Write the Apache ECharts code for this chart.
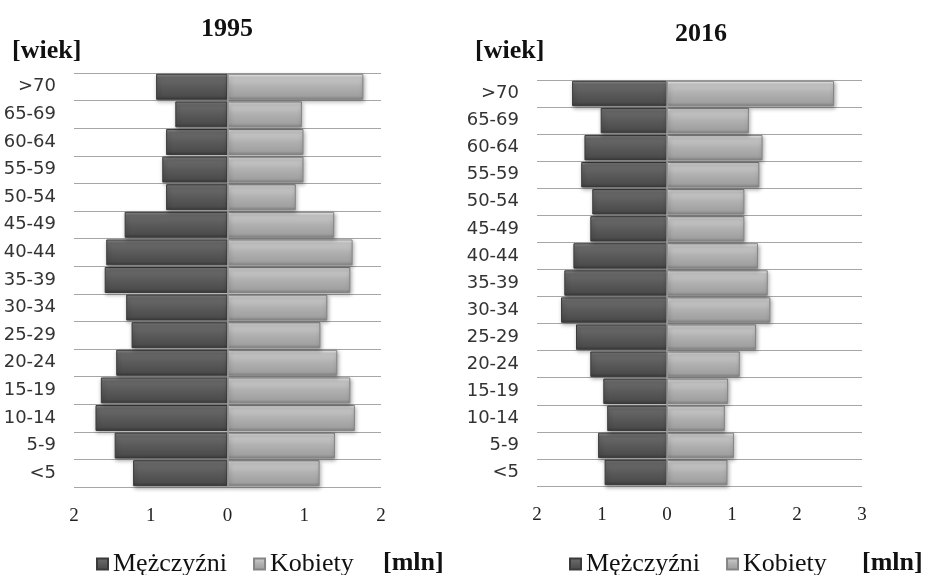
<!DOCTYPE html>
<html>
<head>
<meta charset="utf-8">
<script src="https://cdn.jsdelivr.net/npm/echarts@6/dist/echarts.min.js"></script>
<style>
html,body{margin:0;padding:0;background:#fff;}
#main{width:925px;height:575px;}
</style>
</head>
<body>
<div id="main"></div>
<script>
// Age groups, bottom to top
const categories = ['<5','5-9','10-14','15-19','20-24','25-29','30-34','35-39','40-44','45-49','50-54','55-59','60-64','65-69','>70'];
// Population in millions
const male1995   = [1.23,1.47,1.72,1.65,1.45,1.25,1.32,1.60,1.58,1.34,0.80,0.85,0.80,0.68,0.93];
const female1995 = [1.20,1.40,1.66,1.60,1.43,1.21,1.30,1.60,1.63,1.39,0.89,0.99,0.99,0.97,1.77];
const male2016   = [0.96,1.06,0.92,0.98,1.18,1.40,1.63,1.58,1.44,1.18,1.15,1.32,1.27,1.02,1.46];
const female2016 = [0.93,1.03,0.89,0.94,1.12,1.37,1.59,1.55,1.40,1.19,1.19,1.42,1.47,1.26,2.57];
const xTicks1995 = {min:-2, max:2};
const xTicks2016 = {min:-2, max:3};
const titles = ['1995','2016'];
const seriesNames = ['Mężczyźni','Kobiety'];

const SERIF = '"Liberation Serif","Times New Roman",serif';
const SANS = '"DejaVu Sans",Verdana,sans-serif';

function grad(stops){
  return {type:'linear',x:0,y:0,x2:0,y2:1,colorStops:stops.map(s=>({offset:s[0],color:s[1]}))};
}
const maleStyle = {
  color: grad([[0,'#8c8c8c'],[0.14,'#6a6a6a'],[0.5,'#5a5a5a'],[0.86,'#4c4c4c'],[1,'#383838']]),
  borderColor:'#3a3a3a', borderWidth:1,
  shadowBlur:4, shadowOffsetX:1, shadowOffsetY:2, shadowColor:'rgba(0,0,0,0.35)'
};
const femaleStyle = {
  color: grad([[0,'#f4f4f4'],[0.14,'#c8c8c8'],[0.5,'#b0b0b0'],[0.86,'#a0a0a0'],[1,'#808080']]),
  borderColor:'#858585', borderWidth:1,
  shadowBlur:4, shadowOffsetX:1, shadowOffsetY:2, shadowColor:'rgba(0,0,0,0.35)'
};

function xAxis(idx, ticks){
  return {
    type:'value', gridIndex:idx, min:ticks.min, max:ticks.max, interval:1,
    axisLine:{show:false}, axisTick:{show:false}, splitLine:{show:false},
    axisLabel:{margin:20, color:'#222', fontFamily:SERIF, fontSize:19,
      formatter:v=>String(Math.abs(v))}
  };
}
function yAxis(idx){
  return {
    type:'category', gridIndex:idx, data:categories,
    axisLine:{show:false}, axisTick:{show:false},
    splitLine:{show:true, lineStyle:{color:'#a6a6a6', width:1}},
    axisLabel:{margin:18, color:'#333', fontFamily:SANS, fontSize:18}
  };
}
function barSeries(name, data, idx, style, stack, withZero){
  const s = {
    name:name, type:'bar', xAxisIndex:idx, yAxisIndex:idx, stack:stack,
    data:data, barCategoryGap:'6%', itemStyle:style, silent:true
  };
  if(withZero){
    s.markLine = {silent:true, symbol:'none', label:{show:false},
      lineStyle:{color:'#9a9a9a', width:1.5, type:'solid'}, data:[{xAxis:0}]};
  }
  return s;
}

const chart = echarts.init(document.getElementById('main'), null, {renderer:'canvas'});
chart.setOption({
  animation:false,
  backgroundColor:'#fff',
  title:[
    {text:titles[0], left:222, top:11, textAlign:'center', textStyle:{fontFamily:SERIF, fontWeight:'bold', fontSize:26, color:'#111'}},
    {text:titles[1], left:696, top:16, textAlign:'center', textStyle:{fontFamily:SERIF, fontWeight:'bold', fontSize:26, color:'#111'}}
  ],
  graphic:[
    {type:'text', left:12, top:38, style:{text:'[wiek]', font:'bold 26px '+SERIF, fill:'#111'}},
    {type:'text', left:475, top:38, style:{text:'[wiek]', font:'bold 26px '+SERIF, fill:'#111'}},
    {type:'text', left:383, top:550, style:{text:'[mln]', font:'bold 26px '+SERIF, fill:'#111'}},
    {type:'text', left:862, top:550, style:{text:'[mln]', font:'bold 26px '+SERIF, fill:'#111'}}
  ],
  legend:[
    {left:91, top:546, itemWidth:11, itemHeight:11, itemGap:26, icon:'rect', data:seriesNames,
      textStyle:{fontFamily:SERIF, fontSize:26, color:'#111'}},
    {left:564, top:546, itemWidth:11, itemHeight:11, itemGap:26, icon:'rect', data:seriesNames,
      textStyle:{fontFamily:SERIF, fontSize:26, color:'#111'}}
  ],
  grid:[
    {left:74, top:73, width:307, height:414},
    {left:537, top:80, width:325, height:406}
  ],
  xAxis:[xAxis(0, xTicks1995), xAxis(1, xTicks2016)],
  yAxis:[yAxis(0), yAxis(1)],
  series:[
    barSeries(seriesNames[0], male1995.map(v=>-v), 0, maleStyle, 'a', false),
    barSeries(seriesNames[1], female1995, 0, femaleStyle, 'a', true),
    barSeries(seriesNames[0], male2016.map(v=>-v), 1, maleStyle, 'b', false),
    barSeries(seriesNames[1], female2016, 1, femaleStyle, 'b', true)
  ]
});
</script>
</body>
</html>
